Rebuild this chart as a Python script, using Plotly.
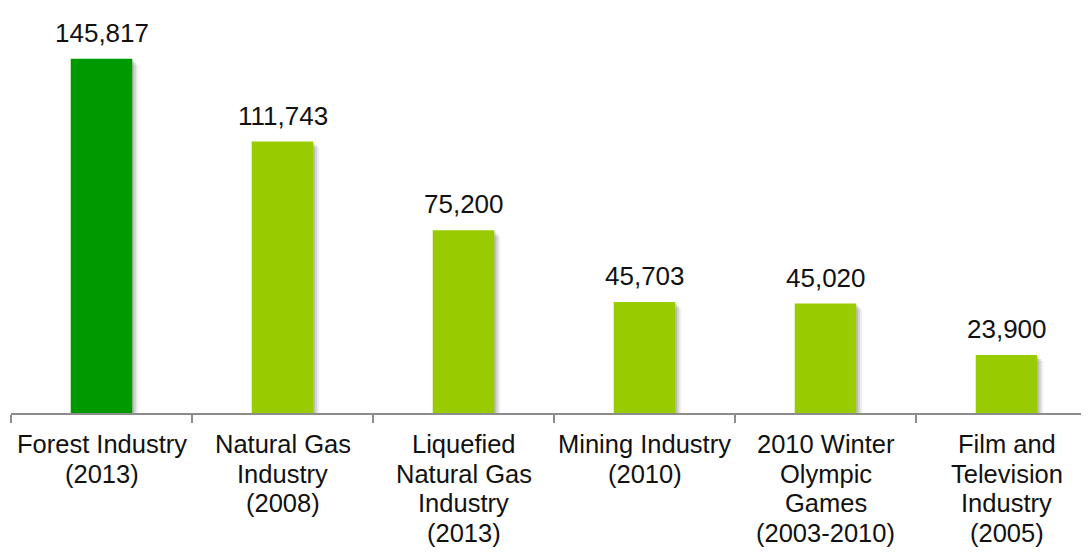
import plotly.graph_objects as go

categories = [
    "Forest Industry<br>(2013)",
    "Natural Gas<br>Industry<br>(2008)",
    "Liquefied<br>Natural Gas<br>Industry<br>(2013)",
    "Mining Industry<br>(2010)",
    "2010 Winter<br>Olympic<br>Games<br>(2003-2010)",
    "Film and<br>Television<br>Industry<br>(2005)",
]
values = [145817, 111743, 75200, 45703, 45020, 23900]
value_labels = ["145,817", "111,743", "75,200", "45,703", "45,020", "23,900"]
colors = ["#009900", "#99CC00", "#99CC00", "#99CC00", "#99CC00", "#99CC00"]

FONT = "Liberation Sans, Arial, sans-serif"
PLOT_H = 405
YMAX = 166700
px_per_unit = PLOT_H / YMAX
cat_px = 181.0
PLOT_W = 1078
LINE_GAP = 29.5
FIRST_LINE = 31

fig = go.Figure()

# soft drop shadows
for dx, dy, alpha in [(6, 6, 0.06), (4, 4, 0.10), (2, 2, 0.12)]:
    fig.add_trace(go.Bar(
        x=categories, y=values, base=[-dy / px_per_unit] * len(values),
        width=0.34, offset=-0.17 + dx / cat_px,
        marker=dict(color=f"rgba(0,0,0,{alpha})", line=dict(width=0)),
        hoverinfo="skip", showlegend=False,
    ))

fig.add_trace(go.Bar(
    x=categories, y=values, width=0.34, offset=-0.17,
    marker=dict(color=colors, line=dict(width=0)),
    showlegend=False,
))

for c, v, t in zip(categories, values, value_labels):
    fig.add_annotation(x=c, y=v, text=t, showarrow=False, yanchor="bottom",
                       yshift=9, font=dict(family=FONT, size=26, color="#111111"))

# category labels, one annotation per line for tighter line spacing
for c in categories:
    for j, line in enumerate(c.split("<br>")):
        fig.add_annotation(x=c, y=0, text=line, showarrow=False,
                           yanchor="middle", xanchor="center",
                           yshift=-(FIRST_LINE + j * LINE_GAP),
                           font=dict(family=FONT, size=25.5, color="#111111"))

fig.update_layout(
    width=1081, height=544,
    margin=dict(l=3, r=0, t=0, b=139, autoexpand=False),
    paper_bgcolor="white", plot_bgcolor="white",
    barmode="overlay",
    font=dict(family=FONT, size=25, color="#111111"),
    xaxis=dict(
        type="category", range=[-0.5, -0.5 + PLOT_W / cat_px],
        automargin=False, showticklabels=False,
        tickson="boundaries", ticks="outside", ticklen=8, tickwidth=2,
        tickcolor="#8c8c8c", showline=True, linecolor="#8c8c8c", linewidth=2,
        showgrid=False,
    ),
    yaxis=dict(range=[0, YMAX], visible=False, showgrid=False, zeroline=False,
               automargin=False),
)

fig.write_html("out.html")
